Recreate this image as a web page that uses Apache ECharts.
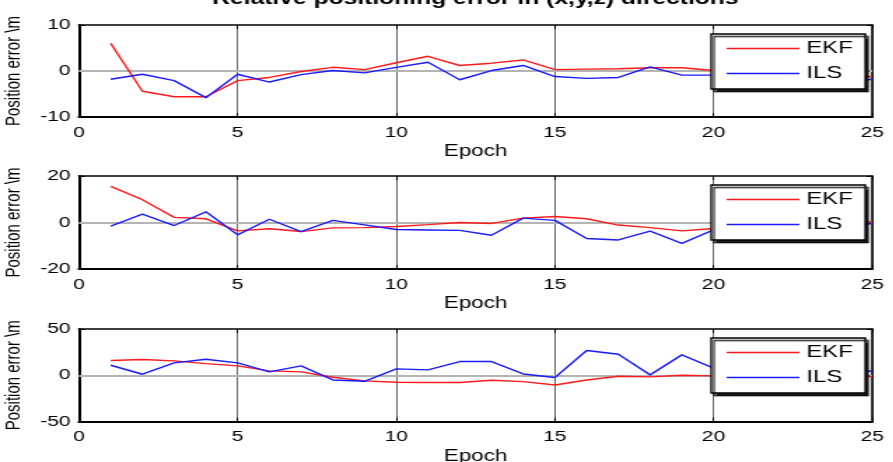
<!DOCTYPE html>
<html>
<head>
<meta charset="utf-8">
<script src="https://cdn.jsdelivr.net/npm/echarts@6/dist/echarts.min.js"></script>
<style>
html,body{margin:0;padding:0;background:#fff;overflow:hidden;}
/* the original figure is stretched sideways, so draw narrow and widen */
#chart{width:638px;height:462px;transform:scaleX(1.4);transform-origin:0 0;}
</style>
</head>
<body>
<div id="chart"></div>
<script>
// 历元
var epochs=[1,2,3,4,5,6,7,8,9,10,11,12,13,14,15,16,17,18,19,20,21,22,23,24,25];
// x方向
var ekfX=[6.0,-4.4,-5.6,-5.6,-2.1,-1.4,-0.1,0.8,0.3,1.8,3.2,1.2,1.7,2.4,0.3,0.4,0.5,0.7,0.7,0.1,0.1,-0.2,-0.3,-0.3,-1.3];
var ilsX=[-1.8,-0.7,-2.1,-5.8,-0.7,-2.4,-0.8,0.1,-0.4,0.8,1.9,-1.9,0.1,1.2,-1.2,-1.6,-1.4,0.9,-0.9,-0.9,-1.2,-1.8,-2.2,-2.5,-1.8];
// y方向
var ekfY=[15.5,9.8,2.2,1.6,-3.6,-2.7,-3.9,-2.3,-2.2,-1.7,-0.9,0,-0.4,1.9,2.6,1.6,-1.1,-2.2,-3.6,-2.6,-2.0,-1.2,-0.3,0.6,0.2];
var ilsY=[-1.6,3.6,-1.3,4.6,-5.3,1.4,-3.9,0.9,-1.0,-3.0,-3.2,-3.4,-5.5,1.9,0.9,-6.9,-7.5,-3.7,-9.0,-3.2,-2.5,-2.0,-1.8,-1.5,-0.4];
// z方向
var ekfZ=[15.9,17.0,15.5,12.6,10.1,4.7,3.6,-2.2,-6.1,-7.6,-7.9,-7.9,-5.4,-6.9,-10.5,-5.1,-1.1,-1.8,0,-0.7,-0.5,-1.0,-0.8,-1.0,-1.4];
var ilsZ=[10.8,1.1,13.4,17.3,13.4,3.6,10.1,-5.1,-6.5,6.9,5.8,14.8,14.8,1.4,-2.5,26.7,22.7,0.4,22.0,7.6,10,12,14,9,4];
// 纵轴范围
var yLimits=[10,20,50];

var font='"Liberation Sans", Arial, sans-serif';
var gridTops=[25,176,329];
var gridHeights=[92,93,92.5];

function pairs(ys){
	var out=[];
	for(var i=0;i<epochs.length;i++){
		out.push([epochs[i],ys[i]]);
	}
	return out;
}

var grids=[],xAxes=[],yAxes=[],legends=[],series=[];
var ekfData=[ekfX,ekfY,ekfZ];
var ilsData=[ilsX,ilsY,ilsZ];

for(var k=0;k<3;k++){
	grids.push({left:56.4,right:15,top:gridTops[k],height:gridHeights[k],outerBoundsMode:'none',containLabel:false});
	xAxes.push({
		gridIndex:k,type:'value',min:0,max:25,interval:5,position:'bottom',
		name:'Epoch',nameLocation:'middle',nameGap:27,
		nameTextStyle:{color:'#000',fontSize:16,fontFamily:font},
		axisLine:{show:true,onZero:false,lineStyle:{color:'#000',width:2}},
		axisTick:{show:true,inside:true,length:4,lineStyle:{color:'#000'}},
		axisLabel:{color:'#000',fontSize:15,fontFamily:font,margin:8},
		splitLine:{show:true,lineStyle:{color:'#666',width:1}}
	});
	yAxes.push({
		gridIndex:k,type:'value',min:-yLimits[k],max:yLimits[k],interval:yLimits[k],position:'left',
		name:'Position error \\m',nameLocation:'middle',nameGap:39,
		nameTextStyle:{color:'#000',fontSize:15,fontFamily:font},
		axisLine:{show:true,onZero:false,lineStyle:{color:'#000',width:2}},
		axisTick:{show:true,inside:true,length:4,lineStyle:{color:'#000'}},
		axisLabel:{color:'#000',fontSize:15,fontFamily:font,margin:6},
		splitLine:{show:false}
	});
	legends.push({
		orient:'vertical',left:508,top:gridTops[k]+9,z:20,
		data:['EKF','ILS'],
		icon:'rect',itemWidth:52,itemHeight:1.5,itemGap:8,
		padding:[6,9,7,11],
		backgroundColor:'#fff',borderColor:'#000',borderWidth:1.3,
		shadowColor:'rgba(0,0,0,0.85)',shadowBlur:1,shadowOffsetX:2,shadowOffsetY:2.5,
		textStyle:{color:'#000',fontSize:17,fontFamily:font},
		selectedMode:false
	});
	series.push({
		name:'EKF',type:'line',xAxisIndex:k,yAxisIndex:k,symbol:'none',
		data:pairs(ekfData[k]),
		lineStyle:{color:'#ff1a1a',width:1.4},itemStyle:{color:'#ff1a1a'},
		markLine:{silent:true,symbol:'none',label:{show:false},z:1,
			lineStyle:{color:'#b4b4b4',width:2,type:'solid'},data:[{yAxis:0}]}
	});
	series.push({
		name:'ILS',type:'line',xAxisIndex:k,yAxisIndex:k,symbol:'none',
		data:pairs(ilsData[k]),
		lineStyle:{color:'#1a1aff',width:1.4},itemStyle:{color:'#1a1aff'}
	});
}
// 顶部与右侧的边框和刻度
for(var k=0;k<3;k++){
	xAxes.push({
		gridIndex:k,type:'value',min:0,max:25,interval:5,position:'top',
		axisLine:{show:true,onZero:false,lineStyle:{color:'#000',width:1.5}},
		axisTick:{show:true,inside:true,length:4,lineStyle:{color:'#000'}},
		axisLabel:{show:false},splitLine:{show:false}
	});
	yAxes.push({
		gridIndex:k,type:'value',min:-yLimits[k],max:yLimits[k],interval:yLimits[k],position:'right',
		axisLine:{show:true,onZero:false,lineStyle:{color:'#000',width:1.5}},
		axisTick:{show:true,inside:true,length:4,lineStyle:{color:'#000'}},
		axisLabel:{show:false},splitLine:{show:false}
	});
}

var myChart=echarts.init(document.getElementById('chart'));
myChart.setOption({
	animation:false,
	backgroundColor:'#fff',
	graphic:[{
		type:'text',x:339.6,y:8,
		style:{text:'Relative positioning error in (x,y,z) directions',
			align:'center',verticalAlign:'bottom',
			font:'bold 17.6px '+font,fill:'#000'}
	}],
	legend:legends,
	grid:grids,
	xAxis:xAxes,
	yAxis:yAxes,
	series:series
});
</script>
</body>
</html>
